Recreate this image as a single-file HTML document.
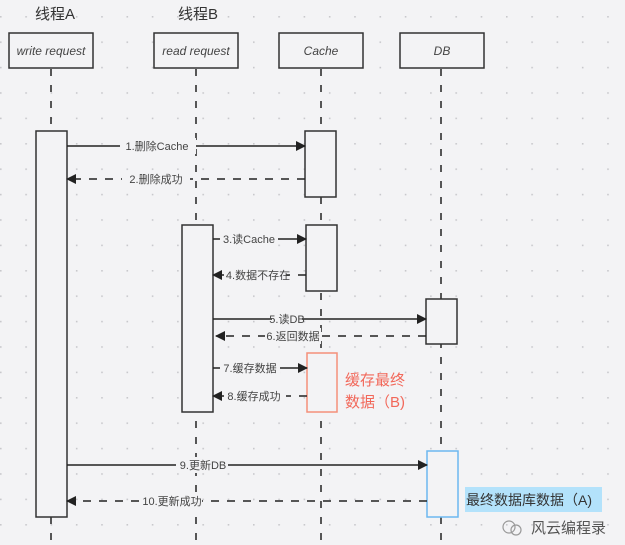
<!DOCTYPE html>
<html><head><meta charset="utf-8"><style>
html,body{margin:0;padding:0;background:#f3f3f5;}
svg{display:block;font-family:"Liberation Sans","Noto Sans CJK SC",sans-serif;}
</style></head><body>
<svg width="625" height="545" viewBox="0 0 625 545" xmlns="http://www.w3.org/2000/svg">
<defs>
<pattern id="g" x="0" y="16" width="25.3" height="25.4" patternUnits="userSpaceOnUse">
<rect x="0" y="0" width="1.6" height="1.6" fill="#c8c8cc"/>
</pattern>
<marker id="a" markerWidth="10" markerHeight="10" refX="9" refY="5" orient="auto" markerUnits="userSpaceOnUse"><path d="M0,0 L10,5 L0,10 z" fill="#222"/></marker>
</defs>
<rect width="625" height="545" fill="#f3f3f5"/>
<rect width="625" height="545" fill="url(#g)"/>
<g font-size="15" fill="#333">
<text x="35" y="19">线程A</text>
<text x="178" y="19">线程B</text>
</g>
<g fill="#f3f3f5" stroke="#333" stroke-width="1.5">
<rect x="9" y="33" width="84" height="35"/>
<rect x="154" y="33" width="84" height="35"/>
<rect x="279" y="33" width="84" height="35"/>
<rect x="400" y="33" width="84" height="35"/>
</g>
<g font-size="12" font-style="italic" fill="#444" text-anchor="middle">
<text x="51" y="55">write request</text>
<text x="196" y="55">read request</text>
<text x="321" y="55">Cache</text>
<text x="442" y="55">DB</text>
</g>
<g stroke="#222" stroke-width="1.5" stroke-dasharray="7,9">
<line x1="51" y1="69" x2="51" y2="545"/>
<line x1="196" y1="69" x2="196" y2="545"/>
<line x1="321" y1="69" x2="321" y2="545"/>
<line x1="441" y1="69" x2="441" y2="545"/>
</g>
<g fill="#f3f3f5" stroke="#333" stroke-width="1.5">
<rect x="36" y="131" width="31" height="386"/>
<rect x="182" y="225" width="31" height="187"/>
<rect x="305" y="131" width="31" height="66"/>
<rect x="306" y="225" width="31" height="66"/>
<rect x="426" y="299" width="31" height="45"/>
<rect x="307" y="353" width="30" height="59" stroke="#f4907a"/>
<rect x="427" y="451" width="31" height="66" stroke="#6db8f0"/>
</g>
<g stroke="#222" stroke-width="1.5" fill="none">
<line x1="67" y1="146" x2="305" y2="146" marker-end="url(#a)"/>
<line x1="305" y1="179" x2="67" y2="179" stroke-dasharray="8,8" marker-end="url(#a)"/>
<line x1="213" y1="239" x2="306" y2="239" marker-end="url(#a)"/>
<line x1="306" y1="275" x2="213" y2="275" stroke-dasharray="8,8" marker-end="url(#a)"/>
<line x1="213" y1="319" x2="426" y2="319" marker-end="url(#a)"/>
<line x1="426" y1="336" x2="216" y2="336" stroke-dasharray="8,8" marker-end="url(#a)"/>
<line x1="213" y1="368" x2="307" y2="368" marker-end="url(#a)"/>
<line x1="307" y1="396" x2="213" y2="396" stroke-dasharray="8,8" marker-end="url(#a)"/>
<line x1="67" y1="465" x2="427" y2="465" marker-end="url(#a)"/>
<line x1="427" y1="501" x2="67" y2="501" stroke-dasharray="8,8" marker-end="url(#a)"/>
</g>
<g font-size="11" fill="#444" text-anchor="middle">
<g fill="#f3f3f5">
<rect x="120" y="138" width="76" height="16"/>
<rect x="122" y="171" width="68" height="16"/>
<rect x="220" y="231" width="58" height="16"/>
<rect x="224" y="267" width="62" height="16"/>
<rect x="272" y="311" width="30" height="16"/>
<rect x="265" y="328" width="56" height="16"/>
<rect x="220" y="360" width="60" height="16"/>
<rect x="224" y="388" width="62" height="16"/>
<rect x="176" y="457" width="52" height="16"/>
<rect x="140" y="493" width="62" height="16"/>
</g>
<text x="157" y="150">1.删除Cache</text>
<text x="156" y="183">2.删除成功</text>
<text x="249" y="243">3.读Cache</text>
<text x="258" y="279">4.数据不存在</text>
<text x="287" y="323">5.读DB</text>
<text x="293" y="340">6.返回数据</text>
<text x="250" y="372">7.缓存数据</text>
<text x="254" y="400">8.缓存成功</text>
<text x="203" y="469">9.更新DB</text>
<text x="172" y="505">10.更新成功</text>
</g>
<g font-size="15" fill="#f2685a">
<text x="345" y="385">缓存最终</text>
<text x="345" y="407">数据（B)</text>
</g>
<rect x="465" y="487" width="137" height="25" fill="#b3e2fb"/>
<text x="466" y="505" font-size="14" fill="#333">最终数据库数据（A)</text>
<circle cx="509" cy="527" r="6" fill="none" stroke="#999" stroke-width="1.2"/>
<circle cx="516" cy="530" r="5" fill="none" stroke="#999" stroke-width="1.2"/>
<text x="531" y="533" font-size="15" fill="#555">风云编程录</text>
</svg>
</body></html>
